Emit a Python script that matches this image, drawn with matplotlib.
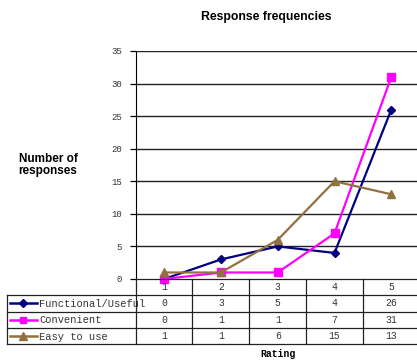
import matplotlib
matplotlib.use("Agg")
import matplotlib.pyplot as plt

# data
ratings = [1, 2, 3, 4, 5]
series_names = ["Functional/Useful", "Convenient", "Easy to use"]
functional = [0, 3, 5, 4, 26]
convenient = [0, 1, 1, 7, 31]
easy = [1, 1, 6, 15, 13]

colors = ["#000080", "#FF00FF", "#93703F"]
markers = ["D", "s", "^"]
msizes = [4.5, 5.5, 6]
all_series = [functional, convenient, easy]

W, H = 417, 360
fig = plt.figure(figsize=(W / 100, H / 100), dpi=100)

# plot area in pixel terms
x0, x1 = 135.7, 419.7
ytop, ybot = 51, 279
ax = fig.add_axes([x0 / W, (H - ybot) / H, (x1 - x0) / W, (ybot - ytop) / H])

for vals, c, m, ms in zip(all_series, colors, markers, msizes):
    ax.plot(ratings, vals, color=c, marker=m, markersize=ms, linewidth=1.6,
            markeredgecolor=c, markerfacecolor=c, clip_on=False, zorder=3)

ax.set_xlim(0.5, 5.5)
ax.set_ylim(0, 35)
ax.set_yticks(range(0, 36, 5))
ax.set_xticks([])
for y in range(5, 36, 5):
    ax.axhline(y, color="#222222", linewidth=1.0, zorder=1)
for s in ["top", "right", "bottom"]:
    ax.spines[s].set_visible(False)
ax.spines["left"].set_color("black")
ax.tick_params(axis="y", direction="out", length=4, width=0.9, color="black",
               labelsize=6.5, labelcolor="#333333", pad=6)
for lbl in ax.get_yticklabels():
    lbl.set_family("Liberation Mono")

# data table under the axis
tleft = 7
tbot = 344
tax = fig.add_axes([tleft / W, (H - tbot) / H, (x1 - tleft) / W, (tbot - ybot) / H])
ppu = (x1 - x0) / 5.0
xl = 0.5 - (x0 - tleft) / ppu
tax.set_xlim(xl, 5.5)
tax.set_ylim(0, 4)
tax.axis("off")

lc = "#222222"
for y in [0, 1, 2, 3]:
    tax.plot([xl, 5.5], [y, y], color=lc, linewidth=0.9, clip_on=False)
tax.plot([0.5, 5.5], [4, 4], color=lc, linewidth=0.9, clip_on=False)
tax.plot([xl, xl], [0, 3], color=lc, linewidth=0.9, clip_on=False)
for xv in [0.5, 1.5, 2.5, 3.5, 4.5, 5.5]:
    tax.plot([xv, xv], [0, 4], color=lc, linewidth=0.9, clip_on=False)

mono = "Liberation Mono"
for r in ratings:
    tax.text(r, 3.5, str(r), ha="center", va="center", fontsize=7,
             family=mono, color="#333333")

def px(p):
    return (p - x0) / ppu + 0.5

for i, (name, vals, c, m, ms) in enumerate(zip(series_names, all_series, colors, markers, msizes)):
    yrow = 2.5 - i
    tax.plot([px(10), px(37)], [yrow, yrow], color=c, linewidth=1.8, clip_on=False)
    tax.plot([px(23.5)], [yrow], marker=m, color=c, markersize=ms * 0.9, clip_on=False)
    tax.text(px(39), yrow - 0.05, name, ha="left", va="center", fontsize=7.5,
             family=mono, color="#333333")
    for r, v in zip(ratings, vals):
        tax.text(r, yrow, str(v), ha="center", va="center", fontsize=7,
                 family=mono, color="#333333")

fig.text(266 / W, 1 - 17 / H, "Response frequencies", ha="center", va="center",
         fontsize=8.8, fontweight="bold", family="Liberation Sans")
fig.text(48 / W, 1 - 165 / H, "Number of\nresponses", ha="center", va="center",
         multialignment="center", fontsize=8.5, fontweight="bold",
         family="Liberation Sans", linespacing=1.0)
fig.text(278 / W, 1 - 354 / H, "Rating", ha="center", va="center",
         fontsize=7, fontweight="bold", family=mono)

fig.savefig("out.png", dpi=100)
